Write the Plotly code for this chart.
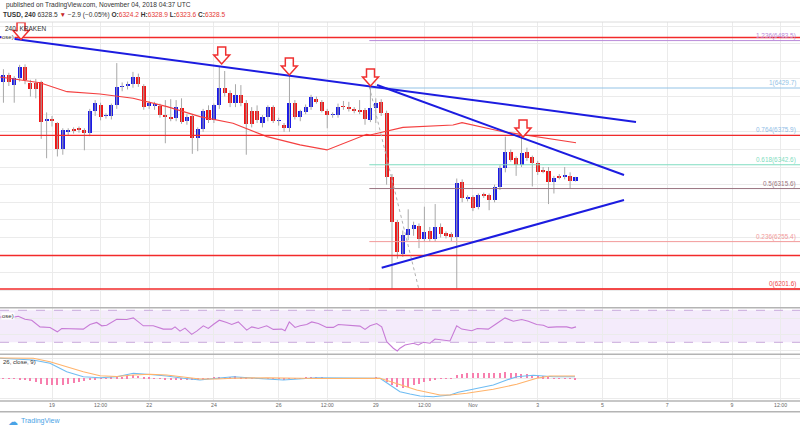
import plotly.graph_objects as go

W, H = 800, 430
def px(x): return x / W
def py(y): return 1 - y / H

# ---------------- data (x = day of October; Nov d -> 31 + d) ----------------
candle_start = 17.5          # Oct 17 12:00
candle_step = 1 / 6          # 240-minute candles
opens = [6436.9, 6444.5, 6433.1, 6440.7, 6453.9, 6435.8, 6435.8, 6436.9, 6392.6, 6393.4,
         6389.6, 6360.1, 6380.9, 6382.8, 6383.9, 6382.1, 6378.3, 6404.0, 6410.4, 6398.0,
         6398.0, 6410.4, 6430.9, 6432.4, 6434.3, 6441.8, 6432.4, 6410.4, 6410.1, 6409.7,
         6399.1, 6396.4, 6395.3, 6406.6, 6392.3, 6398.0, 6372.6, 6382.8, 6404.8, 6393.4,
         6410.4, 6429.3, 6423.7, 6412.3, 6421.8, 6413.1, 6403.6, 6403.6, 6389.6, 6396.4,
         6407.8, 6392.3, 6387.7, 6383.9, 6413.1, 6396.4, 6402.9, 6408.6, 6417.2, 6414.2,
         6404.0, 6399.1, 6399.1, 6408.6, 6407.8, 6404.8, 6404.0, 6404.8, 6393.4, 6406.6,
         6414.2, 6401.0, 6328.7, 6278.0, 6241.3, 6262.9, 6269.3, 6273.1, 6258.0, 6267.8,
         6258.0, 6272.4, 6264.8, 6264.0, 6261.0, 6323.4, 6304.5, 6306.4, 6295.1, 6308.3,
         6308.3, 6302.6, 6317.8, 6338.6, 6357.5, 6349.9, 6342.3, 6357.5, 6351.0, 6344.2,
         6335.9, 6335.9, 6323.4, 6329.1, 6329.1, 6329.9, 6324.2]
highs = [6451.0, 6447.0, 6443.0, 6456.0, 6456.5, 6439.0, 6440.0, 6438.0, 6402.0, 6398.0,
         6391.0, 6384.0, 6384.0, 6385.0, 6386.0, 6384.0, 6406.0, 6416.0, 6413.0, 6401.0,
         6412.0, 6458.0, 6436.0, 6437.0, 6448.0, 6446.0, 6434.0, 6415.0, 6414.0, 6412.0,
         6416.0, 6417.0, 6416.0, 6418.0, 6400.0, 6400.0, 6385.0, 6406.0, 6410.0, 6412.0,
         6454.0, 6449.0, 6427.0, 6434.0, 6433.0, 6416.0, 6408.0, 6410.0, 6399.0, 6410.0,
         6410.0, 6396.0, 6390.0, 6444.0, 6416.0, 6405.0, 6411.0, 6422.0, 6420.0, 6416.0,
         6406.0, 6402.0, 6412.0, 6415.0, 6414.0, 6408.0, 6416.0, 6407.0, 6431.0, 6418.0,
         6417.0, 6404.0, 6332.0, 6280.0, 6268.0, 6292.0, 6278.0, 6276.0, 6295.0, 6272.0,
         6298.0, 6276.0, 6267.0, 6266.0, 6327.0, 6326.0, 6308.0, 6308.0, 6310.0, 6311.0,
         6310.0, 6320.0, 6342.0, 6374.5, 6360.0, 6352.0, 6376.4, 6362.0, 6353.0, 6347.0,
         6340.0, 6340.0, 6330.0, 6332.0, 6340.0, 6334.0, 6328.9]
lows = [6413.0, 6432.0, 6413.0, 6437.0, 6434.0, 6420.0, 6418.0, 6372.0, 6350.0, 6386.0,
        6352.0, 6354.0, 6376.0, 6378.0, 6379.0, 6359.0, 6375.0, 6398.0, 6393.0, 6395.0,
        6394.0, 6406.0, 6426.0, 6428.0, 6430.0, 6431.0, 6405.0, 6406.0, 6405.0, 6396.0,
        6367.0, 6392.0, 6392.0, 6389.0, 6388.0, 6355.0, 6358.0, 6380.0, 6390.0, 6390.0,
        6406.0, 6420.0, 6408.0, 6408.0, 6409.0, 6354.0, 6385.0, 6390.0, 6385.0, 6392.0,
        6390.0, 6387.0, 6380.0, 6380.0, 6394.0, 6392.0, 6400.0, 6405.0, 6412.0, 6402.0,
        6384.0, 6396.0, 6396.0, 6405.0, 6403.0, 6401.0, 6400.0, 6388.0, 6391.0, 6390.0,
        6398.0, 6320.0, 6201.6, 6236.0, 6238.0, 6257.0, 6262.0, 6248.0, 6255.0, 6255.0,
        6255.0, 6260.0, 6259.0, 6256.0, 6202.0, 6300.0, 6301.0, 6290.0, 6292.0, 6305.0,
        6291.0, 6300.0, 6314.0, 6334.0, 6346.0, 6330.0, 6340.0, 6347.0, 6318.0, 6331.0,
        6333.0, 6298.0, 6310.0, 6326.0, 6326.0, 6316.0, 6323.6]
closes = [6444.5, 6436.9, 6440.7, 6453.9, 6438.8, 6428.2, 6428.2, 6391.5, 6393.4, 6392.3,
          6360.1, 6382.1, 6381.7, 6381.3, 6382.8, 6378.3, 6404.0, 6413.1, 6397.2, 6398.3,
          6410.4, 6430.5, 6431.6, 6433.1, 6441.8, 6434.3, 6408.6, 6412.3, 6410.4, 6399.1,
          6397.2, 6395.3, 6407.8, 6391.5, 6396.4, 6372.6, 6382.8, 6404.0, 6393.4, 6410.4,
          6429.3, 6423.7, 6412.3, 6421.8, 6412.3, 6388.9, 6388.9, 6393.4, 6396.4, 6407.8,
          6392.3, 6392.6, 6383.9, 6413.1, 6396.4, 6403.6, 6408.6, 6419.1, 6414.2, 6404.0,
          6399.1, 6399.5, 6408.6, 6408.2, 6405.5, 6404.4, 6403.6, 6394.2, 6406.6, 6413.1,
          6401.0, 6329.1, 6278.0, 6244.0, 6262.9, 6269.3, 6274.3, 6258.0, 6266.7, 6258.0,
          6272.4, 6264.0, 6262.1, 6261.0, 6321.5, 6304.5, 6305.6, 6293.2, 6308.3, 6307.9,
          6302.6, 6317.8, 6338.6, 6357.5, 6348.0, 6342.3, 6355.6, 6349.9, 6344.2, 6334.8,
          6335.5, 6323.4, 6327.2, 6328.7, 6329.5, 6324.2, 6328.5]

ema_x = [17.394, 18.629, 19.463, 20.482, 21.502, 22.552, 23.571, 24.590, 25.640, 26.659,
         27.493, 28.720, 28.821, 29.840, 31.384, 31.662, 32.928, 33.978, 35.183]
ema_y = [6442.2, 6435.7, 6425.5, 6422.9, 6418.1, 6408.5, 6397.2, 6389.7, 6374.5, 6365.1,
         6359.4, 6377.2, 6376.4, 6385.1, 6387.7, 6390.4, 6380.1, 6374.5, 6367.6]

# horizontal support / resistance lines
hlines = [6487.0, 6375.9, 6239.6, 6201.6]
# fibonacci retracement
fib_start = 28.80
fib_levels = [1.236, 1.0, 0.764, 0.618, 0.5, 0.236, 0.0]
fib_prices = [6483.5, 6429.7, 6375.9, 6342.6, 6315.6, 6255.4, 6201.6]
fib_colors = ['#b98ad9', '#93c3e6', '#8fbce6', '#7fdcc0', '#9a7480', '#f29a9a', '#f04848']
fib_diag_x = [28.80, 30.34]
fib_diag_y = [6431.2, 6199.7]
# trend lines (x0, y0, x1, y1)
trend_lines = [(17.394, 6487.6, 37.036, 6391.2),
               (29.037, 6433.1, 36.665, 6331.0),
               (29.182, 6225.8, 36.665, 6302.6)]
# arrow tips
arrow_x = [18.043, 24.241, 26.329, 28.836, 33.546]
arrow_y = [6484.8, 6457.0, 6444.5, 6432.0, 6374.1]

rsi_x = [17.394, 17.703, 17.959, 18.166, 18.373, 18.629, 18.938, 19.164, 19.299, 19.763,
         19.967, 20.173, 20.380, 20.535, 20.689, 20.998, 21.307, 21.511, 21.820, 22.128,
         22.437, 22.697, 22.799, 22.953, 23.107, 23.314, 23.469, 23.673, 23.827, 23.981,
         24.167, 24.395, 24.550, 24.754, 25.013, 25.167, 25.371, 25.630, 25.834, 26.094,
         26.196, 26.328, 26.505, 26.659, 26.866, 27.020, 27.224, 27.484, 27.688, 27.842,
         28.101, 28.512, 28.666, 28.821, 29.028, 29.182, 29.336, 29.541, 29.664, 29.747,
         29.902, 30.158, 30.313, 30.467, 30.674, 30.828, 31.291, 31.498, 31.653, 31.962,
         32.135, 32.474, 32.734, 32.990, 33.246, 33.506, 33.710, 33.969, 34.173, 34.328,
         34.587, 34.896, 35.050, 35.183]
rsi_y = [61.7, 60.5, 62.6, 58.9, 57.6, 49.3, 48.6, 43.1, 47.3, 47.3,
         46.5, 52.3, 54.8, 50.6, 51.4, 58.9, 58.5, 60.5, 50.6, 50.6,
         46.5, 46.5, 49.3, 44.0, 47.7, 39.9, 44.0, 50.6, 47.3, 52.3,
         57.6, 54.8, 52.3, 55.5, 45.2, 49.3, 47.3, 50.6, 46.1, 46.5,
         44.4, 55.5, 48.6, 50.6, 52.3, 55.5, 53.5, 48.6, 48.6, 52.3,
         51.4, 50.2, 46.1, 50.6, 53.5, 49.3, 30.7, 22.6, 19.2, 22.6,
         26.7, 28.8, 26.7, 30.0, 28.8, 34.1, 31.6, 50.6, 46.5, 44.4,
         47.3, 46.5, 53.5, 60.5, 56.4, 58.5, 56.4, 52.3, 51.4, 48.6,
         49.3, 49.3, 47.7, 49.3]

macd_x = [17.394, 18.413, 18.938, 19.454, 19.967, 20.482, 20.998, 21.511, 22.027, 22.542,
          23.055, 23.571, 24.086, 24.599, 25.630, 26.143, 27.175, 28.719, 29.130, 29.438,
          29.747, 30.056, 30.365, 30.776, 31.291, 31.548, 32.011, 32.629, 33.043, 33.352,
          33.864, 34.173, 34.482, 35.152]
macd_y = [10.1, 9.25, 7.6, 3.4, 0.9, 0.4, 0.9, 2.6, 2.0, 1.25,
          0.1, -0.75, 0.1, 0.9, -0.25, -0.75, 0.4, 0.1, 0.1, -3.25,
          -6.6, -7.75, -8.75, -9.1, -8.25, -6.9, -5.4, -3.25, -0.75, 0.9,
          1.6, 1.4, 0.9, 0.9]
signal_x = [17.394, 18.422, 18.938, 19.454, 19.967, 20.482, 20.998, 21.511, 22.027, 22.542,
            23.055, 23.571, 24.086, 24.599, 25.630, 27.175, 29.130, 29.747, 30.263, 30.983,
            31.291, 31.807, 32.629, 33.351, 33.969, 34.380, 35.152]
signal_y = [10.25, 10.1, 8.4, 5.9, 3.4, 1.4, 1.0, 1.75, 2.1, 1.75,
            0.9, -0.25, -0.25, 0.1, 0.4, 0.0, 0.1, -3.25, -5.75, -8.25,
            -8.25, -7.4, -5.4, -2.9, 0.1, 1.25, 1.25]
hist = [-0.2, -0.25, -0.4, -0.7, -0.9, -1.2, -1.8, -2.8, -3.2, -3.5,
        -3.6, -3.3, -2.9, -2.4, -2.0, -1.5, -1.1, -0.5, -0.2, 0.1,
        0.3, 0.6, 0.75, 0.9, 1.4, 1.2, 0.8, 0.3, -0.2, -0.4,
        -0.5, -0.55, -0.6, -0.6, -0.8, -0.9, -0.9, -0.6, -0.2, 0.3,
        0.6, 0.75, 0.8, 0.9, 0.6, 0.2, -0.1, -0.2, -0.2, -0.1,
        -0.2, -0.4, -0.5, -0.2, -0.1, 0.1, 0.2, 0.4, 0.3, 0.2,
        0.0, -0.1, 0.0, 0.05, 0.0, -0.05, -0.1, -0.2, 0.0, 0.2,
        0.0, -1.8, -3.2, -4.5, -4.9, -4.6, -3.6, -2.9, -1.9, -1.25,
        -0.75, -0.4, -0.25, 0.1, 1.75, 2.1, 2.4, 2.6, 2.75, 2.6,
        2.4, 2.4, 2.4, 2.9, 2.4, 2.4, 2.25, 2.1, 1.75, 1.25,
        0.9, 0.4, 0.1, -0.25, -0.25, -0.4, -0.6]

tick_vals = [19, 20.5, 22, 24, 26, 27.5, 29, 30.5, 32, 34, 36, 38, 40, 41.5]
tick_text = ['19', '12:00', '22', '24', '26', '12:00', '29', '12:00', 'Nov', '3', '5', '7', '9', '12:00']

X_RANGE = [17.394, 42.1]

# ---------------- figure ----------------
n = len(opens)
cx = [candle_start + i * candle_step for i in range(n)]
UP, DN = '#1a1ae6', '#f01515'
GRID = '#ebebeb'
FONT = 'Liberation Sans, Arial, sans-serif'

fig = go.Figure()

# wicks
wx, wy = [], []
for i in range(n):
    wx += [cx[i], cx[i], None]
    wy += [lows[i], highs[i], None]
fig.add_trace(go.Scatter(x=wx, y=wy, mode='lines', line=dict(color='#a8a8a8', width=1),
                         hoverinfo='skip', xaxis='x', yaxis='y'))
# bodies
bases = [min(o, c) for o, c in zip(opens, closes)]
heights = [max(abs(c - o), 1.0) for o, c in zip(opens, closes)]
cols = [UP if c >= o else DN for o, c in zip(opens, closes)]
fig.add_trace(go.Bar(x=cx, y=heights, base=bases, width=0.125, marker=dict(color=cols, line=dict(width=0)),
                     xaxis='x', yaxis='y', hoverinfo='skip'))
# moving average
fig.add_trace(go.Scatter(x=ema_x, y=ema_y, mode='lines', line=dict(color='#f44040', width=1.2),
                         xaxis='x', yaxis='y', hoverinfo='skip'))

# RSI
fig.add_trace(go.Scatter(x=rsi_x, y=rsi_y, mode='lines', line=dict(color='#c77bd6', width=1.1),
                         xaxis='x', yaxis='y2', hoverinfo='skip'))
# MACD
fig.add_trace(go.Bar(x=cx, y=hist, width=0.035, marker=dict(color='#f77fae', line=dict(width=0)),
                     xaxis='x', yaxis='y3', hoverinfo='skip'))
fig.add_trace(go.Scatter(x=macd_x, y=macd_y, mode='lines', line=dict(color='#6fbcf2', width=1.1),
                         xaxis='x', yaxis='y3', hoverinfo='skip'))
fig.add_trace(go.Scatter(x=signal_x, y=signal_y, mode='lines', line=dict(color='#ffb36b', width=1.1),
                         xaxis='x', yaxis='y3', hoverinfo='skip'))

shapes = []
# RSI band
shapes.append(dict(type='rect', xref='paper', yref='y2', x0=0, x1=1, y0=30, y1=70,
                   fillcolor='rgba(180,110,230,0.14)', line=dict(width=0), layer='below'))
for lv in (30, 70):
    shapes.append(dict(type='line', xref='paper', yref='y2', x0=0, x1=1, y0=lv, y1=lv,
                       line=dict(color='#c9a9db', width=1, dash='dash')))
# fib lines
for p, c in zip(fib_prices, fib_colors):
    shapes.append(dict(type='line', xref='x', yref='y', x0=fib_start, x1=X_RANGE[1], y0=p, y1=p,
                       line=dict(color=c, width=1)))
# red horizontal lines
for p in hlines:
    shapes.append(dict(type='line', xref='paper', yref='y', x0=0, x1=1, y0=p, y1=p,
                       line=dict(color='#f22a2a', width=1.4)))
# fib diagonal
shapes.append(dict(type='line', xref='x', yref='y', x0=fib_diag_x[0], y0=fib_diag_y[0],
                   x1=fib_diag_x[1], y1=fib_diag_y[1], line=dict(color='#b0b0b0', width=1, dash='dot')))
# trend lines
for (x0, y0, x1, y1) in trend_lines:
    shapes.append(dict(type='line', xref='x', yref='y', x0=x0, y0=y0, x1=x1, y1=y1,
                       line=dict(color='#1c1ce0', width=2)))
# arrows
arrow_path = 'M 0 0 L -8 9 L -4 9 L -4 17 L 4 17 L 4 9 L 8 9 Z'
for ax_, ay_ in zip(arrow_x, arrow_y):
    shapes.append(dict(type='path', xref='x', yref='y', xsizemode='pixel', ysizemode='pixel',
                       xanchor=ax_, yanchor=ay_, path=arrow_path, fillcolor='white',
                       line=dict(color='#f03030', width=1.5)))
# panel separators
for yy, col, wd in [(22, '#dcdcdc', 1), (307.7, '#b4b4b4', 1.5), (354.3, '#b4b4b4', 1.5),
                    (401, '#b4b4b4', 1.5), (411.7, '#b4b4b4', 1.5)]:
    shapes.append(dict(type='line', xref='paper', yref='paper', x0=0, x1=1, y0=py(yy), y1=py(yy),
                       line=dict(color=col, width=wd)))

ann = []
def txt(x, y, s, size=6.5, color='#333333', anchor='left', bg=None, family=FONT):
    d = dict(xref='paper', yref='paper', x=px(x), y=py(y), text=s, showarrow=False,
             xanchor=anchor, yanchor='middle', font=dict(size=size, color=color, family=family))
    if bg:
        d['bgcolor'] = bg
        d['borderpad'] = 0
    ann.append(d)

txt(4, 5, 'published on TradingView.com, November 04, 2018 04:37 UTC', size=6.6)
R = '#e53935'
header2 = ('<b>TUSD, 240</b> 6328.5 <span style="color:#c62828">▼</span> −2.9 (−0.05%) '
           '<b>O:</b><span style="color:{r}">6324.2</span> <b>H:</b><span style="color:{r}">6328.9</span> '
           '<b>L:</b><span style="color:{r}">6323.6</span> <b>C:</b><span style="color:{r}">6328.5</span>').format(r=R)
txt(1, 15, header2, size=6.6)
txt(2.5, 28, '240, KRAKEN', size=6.5)
txt(1, 37, 'ose)', size=6, bg='white')
txt(1, 315.5, 'ose)', size=6, bg='white')
txt(1, 362, '26, close, 9)', size=6)
# fib labels
for lv, p, c in zip(fib_levels, fib_prices, fib_colors):
    lab = ('%g' % lv) + '(%.1f)' % p
    ann.append(dict(xref='paper', yref='y', x=0.998, y=p, text=lab, showarrow=False,
                    xanchor='right', yanchor='bottom', yshift=-1,
                    font=dict(size=6.4, color=c, family=FONT)))
# footer
txt(6, 421, '☁', size=10, color='#4aa3e6', family='DejaVu Sans')
txt(19, 421, 'TradingView', size=7, color='#4aa3e6')

fig.update_layout(
    width=W, height=H, margin=dict(l=0, r=0, t=0, b=0),
    paper_bgcolor='white', plot_bgcolor='white', showlegend=False,
    barmode='overlay', bargap=0,
    shapes=shapes, annotations=ann,
    xaxis=dict(domain=[0, 1], range=X_RANGE, anchor='y3', tickvals=tick_vals, ticktext=tick_text,
               showgrid=True, gridcolor=GRID, gridwidth=1, zeroline=False, showline=False,
               ticks='', tickfont=dict(size=5.2, color='#666666', family=FONT)),
    yaxis=dict(domain=[py(307.7), py(22)], range=[6180.4, 6504.6], tick0=6200, dtick=20,
               showticklabels=False, gridcolor=GRID, zeroline=False, anchor='x'),
    yaxis2=dict(domain=[py(354.3), py(307.7)], range=[15, 73.25], tick0=0, dtick=20,
                showticklabels=False, gridcolor=GRID, zeroline=False, anchor='x'),
    yaxis3=dict(domain=[py(401), py(354.3)], range=[-11.25, 12.1], tick0=0, dtick=10,
                showticklabels=False, gridcolor=GRID, zeroline=False, anchor='x'),
)

fig.write_html('out.html')
